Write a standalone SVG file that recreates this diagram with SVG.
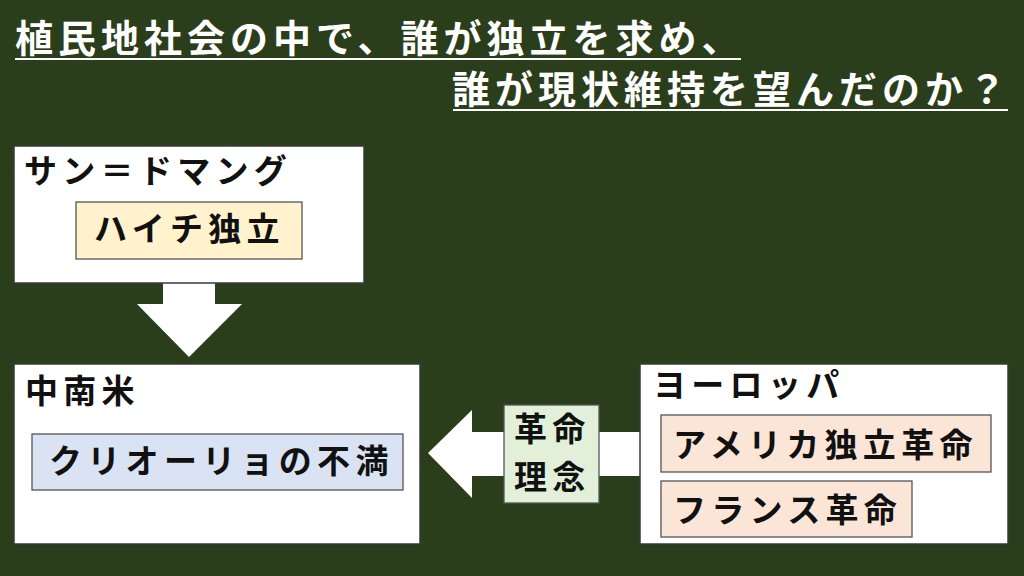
<svg xmlns="http://www.w3.org/2000/svg" width="1024" height="576" viewBox="0 0 1024 576">
<style>
.bg{fill:#2B3E1C}
.title{font-family:"Noto Sans CJK JP","Noto Sans",sans-serif;font-size:38px;font-weight:bold;fill:#FFFFFF;letter-spacing:5px}
.uline{stroke:#FFFFFF;stroke-width:2.2}
.box{fill:#FFFFFF;stroke:#3A3A3A;stroke-width:1.5}
.inner{stroke:#555555;stroke-width:1.3}
.t{font-family:"Noto Sans CJK JP","Noto Sans",sans-serif;font-size:33px;font-weight:bold;fill:#111111;letter-spacing:5.3px}
.arrow{fill:#FFFFFF}
</style>
<rect class="bg" x="0" y="0" width="1024" height="576"/>
<g id="title">
<text class="title" x="15" y="52">植民地社会の中で、誰が独立を求め、</text>
<line class="uline" x1="15" y1="59" x2="741" y2="59"/>
<text class="title" x="452" y="103">誰が現状維持を望んだのか？</text>
<line class="uline" x1="453" y1="110" x2="1008" y2="110"/>
</g>
<g id="connectors">
<polygon class="arrow" points="163,283 215,283 215,304 242,304 189,357 137,304 163,304"/>
<polygon class="arrow" points="428,453 472,410 472,432 640,432 640,476 472,476 472,498"/>
</g>
<g id="saint-domingue">
<rect class="box" x="14" y="146" width="350" height="137"/>
<text class="t" x="24" y="183">サン＝ドマング</text>
</g>
<g id="haiti">
<rect class="inner" x="76" y="202" width="226" height="57" fill="#FFF2CC"/>
<text class="t" x="94" y="241">ハイチ独立</text>
</g>
<g id="latin-america">
<rect class="box" x="14" y="364" width="406" height="180"/>
<text class="t" x="25" y="403">中南米</text>
</g>
<g id="criollo">
<rect class="inner" x="32" y="434" width="371" height="56" fill="#DAE3F3"/>
<text class="t" x="49" y="473">クリオーリョの不満</text>
</g>
<g id="ideas">
<rect class="inner" x="504" y="405" width="95" height="98" fill="#E2F0D9"/>
<text class="t" x="514" y="441">革命</text>
<text class="t" x="514" y="489">理念</text>
</g>
<g id="europe">
<rect class="box" x="640" y="364" width="368" height="180"/>
<text class="t" x="653" y="397">ヨーロッパ</text>
</g>
<g id="american-revolution">
<rect class="inner" x="661" y="415" width="330" height="57" fill="#FBE5D6"/>
<text class="t" x="673" y="457">アメリカ独立革命</text>
</g>
<g id="french-revolution">
<rect class="inner" x="661" y="481" width="251" height="56" fill="#FBE5D6"/>
<text class="t" x="673" y="522">フランス革命</text>
</g>
</svg>
